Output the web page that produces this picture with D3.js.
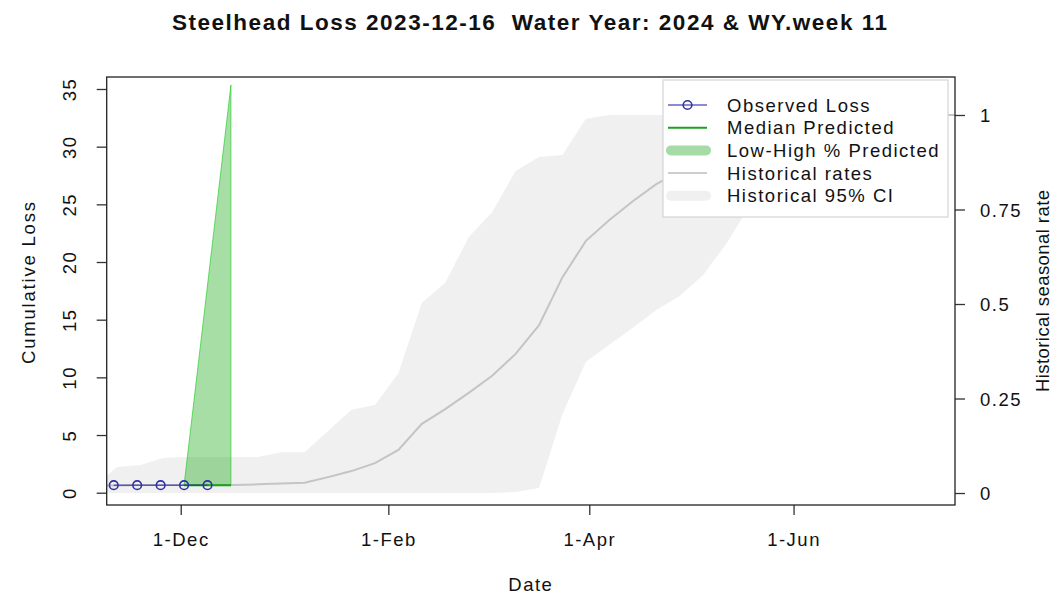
<!DOCTYPE html>
<html>
<head>
<meta charset="utf-8">
<script src="https://cdn.jsdelivr.net/npm/d3@7"></script>
<style>
    body { margin: 0; background: #fff; }
    svg text { font-family: "Liberation Sans", Arial, sans-serif; fill: #111; font-size: 18.5px; letter-spacing: 1.5px; }
    .title { font-weight: bold; font-size: 22.5px; letter-spacing: 0; white-space: pre; }
    .axis path { display: none; }
    .axis line { stroke: #333; stroke-width: 1.3; }
</style>
</head>
<body>
<div id="chart"></div>
<script>

// ---- values ----

// observed cumulative loss (weekly)
let obsDates = ["2023-11-11", "2023-11-18", "2023-11-25", "2023-12-02", "2023-12-09"];
let obsLoss = [0.65, 0.65, 0.65, 0.65, 0.65];

// prediction (median and low-high band)
let predDates = ["2023-12-02", "2023-12-09", "2023-12-16"];
let predMedian = [0.65, 0.65, 0.65];
let predLow = [0.65, 0.65, 0.65];
let predHigh = [0.65, 18.0, 35.35];

// historical seasonal rate (right axis), weekly
let histDates = ["2023-11-05", "2023-11-12", "2023-11-19", "2023-11-26", "2023-12-03", "2023-12-10",
    "2023-12-17", "2023-12-24", "2023-12-31", "2024-01-07", "2024-01-14", "2024-01-21", "2024-01-28",
    "2024-02-04", "2024-02-11", "2024-02-18", "2024-02-25", "2024-03-03", "2024-03-10", "2024-03-17",
    "2024-03-24", "2024-03-31", "2024-04-07", "2024-04-14", "2024-04-21", "2024-04-28", "2024-05-05",
    "2024-05-12", "2024-05-19", "2024-05-26", "2024-06-02", "2024-06-09", "2024-06-16", "2024-06-23",
    "2024-06-30", "2024-07-07", "2024-07-14", "2024-07-21"];
let histMedian = [0.020, 0.020, 0.021, 0.021, 0.021, 0.021, 0.021, 0.023, 0.025, 0.027, 0.042, 0.058, 0.079,
    0.114, 0.183, 0.222, 0.265, 0.310, 0.368, 0.444, 0.571, 0.667, 0.722, 0.772, 0.817, 0.850, 0.880,
    0.910, 0.935, 0.955, 0.970, 0.980, 0.988, 0.994, 0.998, 1.0, 1.0, 1.0];
let histLower = [0, 0, 0, 0, 0, 0, 0, 0, 0, 0, 0, 0, 0,
    0, 0, 0, 0, 0, 0.003, 0.013, 0.209, 0.347, 0.392, 0.437, 0.484, 0.521, 0.577,
    0.660, 0.762, 0.830, 0.890, 0.940, 0.970, 0.990, 1.0, 1.0, 1.0, 1.0];
let histUpper = [0.018, 0.069, 0.074, 0.093, 0.095, 0.095, 0.095, 0.095, 0.108, 0.108, 0.164, 0.220, 0.233,
    0.317, 0.503, 0.556, 0.677, 0.743, 0.852, 0.889, 0.894, 0.990, 1.0, 1.0, 1.0, 1.0, 1.0,
    1.0, 1.0, 1.0, 1.0, 1.0, 1.0, 1.0, 1.0, 1.0, 1.0, 1.0];

// axis ticks
let lossTicks = [0, 5, 10, 15, 20, 25, 30, 35];
let rateTicks = [0, 0.25, 0.5, 0.75, 1];
let dateTicks = ["2023-12-01", "2024-02-01", "2024-04-01", "2024-06-01"];

let legendLabels = ["Observed Loss", "Median Predicted", "Low-High % Predicted", "Historical rates", "Historical 95% CI"];

let titleText = "Steelhead Loss 2023-12-16  Water Year: 2024 & WY.week 11";


// ---- build records ----
let parseDate = d3.timeParse("%Y-%m-%d");

let observed = obsDates.map((d, i) => ({date: parseDate(d), value: obsLoss[i]}));
let predicted = predDates.map((d, i) => ({date: parseDate(d), median: predMedian[i], low: predLow[i], high: predHigh[i]}));
let historical = histDates.map((d, i) => ({date: parseDate(d), median: histMedian[i], lo: histLower[i], hi: histUpper[i]}));


// ---- drawing area ----
let margin = {top: 77, right: 98, bottom: 93, left: 106.7};
let width = 1053 - margin.left - margin.right;
let height = 598 - margin.top - margin.bottom;

let svg = d3.select("#chart").append("svg")
    .attr("width", 1053)
    .attr("height", 598);

let g = svg.append("g")
    .attr("transform", "translate(" + margin.left + "," + margin.top + ")");

g.append("defs").append("clipPath")
    .attr("id", "clip")
    .append("rect")
    .attr("width", width)
    .attr("height", height);

// scales
let x = d3.scaleTime()
    .domain([new Date(2023, 10, 8, 21, 36), new Date(2024, 6, 19, 5, 0)])
    .range([0, width]);

let yLoss = d3.scaleLinear()
    .domain([-1.066, 36.04])
    .range([height, 0]);

let yRate = d3.scaleLinear()
    .domain([-0.0317, 1.1005])
    .range([height, 0]);

let plot = g.append("g").attr("clip-path", "url(#clip)");

// historical 95% band
let band = d3.area()
    .x(d => x(d.date))
    .y0(d => yRate(d.lo))
    .y1(d => yRate(d.hi));

plot.append("path")
    .datum(historical)
    .attr("d", band)
    .attr("fill", "#f0f0f0");

// historical rate line
plot.append("path")
    .datum(historical)
    .attr("d", d3.line().x(d => x(d.date)).y(d => yRate(d.median)))
    .attr("fill", "none")
    .attr("stroke", "#c4c4c4")
    .attr("stroke-width", 2);

// low-high predicted polygon
let predArea = d3.area()
    .x(d => x(d.date))
    .y0(d => yLoss(d.low))
    .y1(d => yLoss(d.high));

plot.append("path")
    .datum(predicted)
    .attr("d", predArea)
    .attr("fill", "rgba(0,160,0,0.35)")
    .attr("stroke", "rgba(0,200,0,0.55)")
    .attr("stroke-width", 1);

// median predicted
plot.append("path")
    .datum(predicted)
    .attr("d", d3.line().x(d => x(d.date)).y(d => yLoss(d.median)))
    .attr("fill", "none")
    .attr("stroke", "#1f9f1f")
    .attr("stroke-width", 2);

// observed loss
plot.append("path")
    .datum(observed)
    .attr("d", d3.line().x(d => x(d.date)).y(d => yLoss(d.value)))
    .attr("fill", "none")
    .attr("stroke", "rgba(50,50,180,0.75)")
    .attr("stroke-width", 1.5);

plot.selectAll(".obs")
    .data(observed)
    .enter().append("circle")
    .attr("class", "obs")
    .attr("cx", d => x(d.date))
    .attr("cy", d => yLoss(d.value))
    .attr("r", 4.3)
    .attr("fill", "none")
    .attr("stroke", "#3030a8")
    .attr("stroke-width", 1.6);


// ---- axes ----
let xAxis = d3.axisBottom(x)
    .tickValues(dateTicks.map(parseDate))
    .tickFormat(d3.timeFormat("%-d-%b"))
    .tickSize(10);

g.append("g")
    .attr("class", "x-axis axis")
    .attr("transform", "translate(0," + height + ")")
    .call(xAxis)
    .selectAll("text")
    .attr("y", 41)
    .attr("dy", 0);

let yAxis = d3.axisLeft(yLoss)
    .tickValues(lossTicks)
    .tickSize(10);

g.append("g")
    .attr("class", "y-axis axis")
    .call(yAxis)
    .selectAll("text")
    .attr("x", null)
    .attr("dy", 0)
    .attr("text-anchor", "middle")
    .attr("transform", "translate(-31,0) rotate(-90)");

let yAxisRight = d3.axisRight(yRate)
    .tickValues(rateTicks)
    .tickFormat(d => String(d))
    .tickSize(10)
    .tickPadding(15);

g.append("g")
    .attr("class", "y-axis-right axis")
    .attr("transform", "translate(" + width + ",0)")
    .call(yAxisRight)
    .selectAll("text")
    .attr("dy", "0.36em");

// plot frame
g.append("rect")
    .attr("width", width)
    .attr("height", height)
    .attr("fill", "none")
    .attr("stroke", "#222")
    .attr("stroke-width", 1.3);


// ---- labels ----
svg.append("text")
    .attr("class", "title")
    .attr("x", 529.5)
    .attr("y", 29.5)
    .attr("text-anchor", "middle")
    .attr("textLength", 715)
    .attr("lengthAdjust", "spacing")
    .text(titleText);

svg.append("text")
    .attr("x", margin.left + width / 2)
    .attr("y", 591)
    .attr("text-anchor", "middle")
    .text("Date");

svg.append("text")
    .attr("text-anchor", "middle")
    .attr("transform", "translate(35,283) rotate(-90)")
    .attr("textLength", 162)
    .attr("lengthAdjust", "spacing")
    .style("letter-spacing", "0")
    .text("Cumulative Loss");

svg.append("text")
    .attr("text-anchor", "middle")
    .attr("transform", "translate(1049,291) rotate(-90)")
    .attr("textLength", 202)
    .attr("lengthAdjust", "spacing")
    .style("letter-spacing", "0")
    .text("Historical seasonal rate");


// ---- legend ----
let legend = svg.append("g")
    .attr("transform", "translate(663,80)");

legend.append("rect")
    .attr("width", 285)
    .attr("height", 137)
    .attr("fill", "#fff")
    .attr("stroke", "#d4d4d4")
    .attr("stroke-width", 1.2);

let rowY = i => 25 + i * 22.7;

// observed
legend.append("line")
    .attr("x1", 5).attr("x2", 44).attr("y1", rowY(0)).attr("y2", rowY(0))
    .attr("stroke", "rgba(50,50,180,0.75)").attr("stroke-width", 1.5);
legend.append("circle")
    .attr("cx", 24.5).attr("cy", rowY(0)).attr("r", 4.3)
    .attr("fill", "none").attr("stroke", "#3030a8").attr("stroke-width", 1.6);
// median
legend.append("line")
    .attr("x1", 5).attr("x2", 44).attr("y1", rowY(1)).attr("y2", rowY(1))
    .attr("stroke", "#1f9f1f").attr("stroke-width", 2);
// low-high
legend.append("line")
    .attr("x1", 8).attr("x2", 43).attr("y1", rowY(2)).attr("y2", rowY(2))
    .attr("stroke", "#a6dba6").attr("stroke-width", 10).attr("stroke-linecap", "round");
// historical rates
legend.append("line")
    .attr("x1", 5).attr("x2", 44).attr("y1", rowY(3)).attr("y2", rowY(3))
    .attr("stroke", "#bdbdbd").attr("stroke-width", 1.5);
// historical CI
legend.append("line")
    .attr("x1", 8).attr("x2", 43).attr("y1", rowY(4)).attr("y2", rowY(4))
    .attr("stroke", "#f0f0f0").attr("stroke-width", 10).attr("stroke-linecap", "round");

legend.selectAll(".legend-label")
    .data(legendLabels)
    .enter().append("text")
    .attr("class", "legend-label")
    .attr("x", 64)
    .attr("y", (d, i) => rowY(i))
    .attr("dy", "0.36em")
    .text(d => d);

</script>
</body>
</html>
